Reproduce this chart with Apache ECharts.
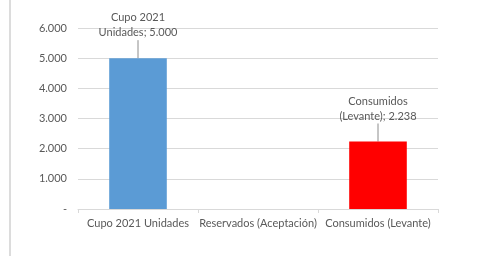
<!DOCTYPE html>
<html>
<head>
<meta charset="utf-8">
<script src="https://cdn.jsdelivr.net/npm/echarts@6/dist/echarts.min.js"></script>
<style>
  html, body { margin: 0; padding: 0; background: #fff; }
  #chart { width: 493px; height: 256px; }
</style>
</head>
<body>
<div id="chart"></div>
<script>
const categories = ['Cupo 2021 Unidades', 'Reservados (Aceptación)', 'Consumidos (Levante)']
const labelNames = ['Cupo 2021\nUnidades', 'Reservados\n(Aceptación)', 'Consumidos\n(Levante)']
const values = [5000, 0, 2238]
const barColors = ['#5B9BD5', '#5B9BD5', '#FF0000']

function fmt(v) {
  if (v === 0) return '-'
  return String(v).replace(/\B(?=(\d{3})+(?!\d))/g, '.')
}

const myChart = echarts.init(document.getElementById('chart'))
myChart.setOption({
  animation: false,
  textStyle: { fontFamily: 'Lato, "Open Sans", sans-serif' },
  grid: { left: 78, right: 55, top: 28, bottom: 47 },
  graphic: [{
    type: 'rect',
    z: 100,
    shape: { x: 9, y: 0, width: 2, height: 256 },
    style: { fill: '#dcdcdc' }
  }],
  xAxis: {
    type: 'category',
    data: categories,
    axisLine: { lineStyle: { color: '#d9d9d9' } },
    axisTick: { show: true, length: 4, lineStyle: { color: '#d9d9d9' } },
    axisLabel: { color: '#595959', fontSize: 11, margin: 9, interval: 0 }
  },
  yAxis: {
    type: 'value',
    min: 0,
    max: 6000,
    interval: 1000,
    axisLine: { show: false },
    axisTick: { show: false },
    splitLine: { lineStyle: { color: '#d9d9d9' } },
    axisLabel: { color: '#595959', fontSize: 11, margin: 11, formatter: fmt }
  },
  series: [{
    type: 'bar',
    barWidth: '48%',
    data: values.map((v, i) => ({
      value: v,
      itemStyle: { color: barColors[i] },
      label: { show: v > 0 }
    })),
    label: {
      position: 'top',
      distance: 2,
      color: '#595959',
      fontSize: 11,
      lineHeight: 15,
      align: 'center',
      formatter: p => labelNames[p.dataIndex] + '; ' + fmt(p.value)
    },
    labelLayout: { dy: -16 },
    labelLine: { show: true, lineStyle: { color: '#8c8c8c', width: 1 } }
  }]
})
</script>
</body>
</html>
